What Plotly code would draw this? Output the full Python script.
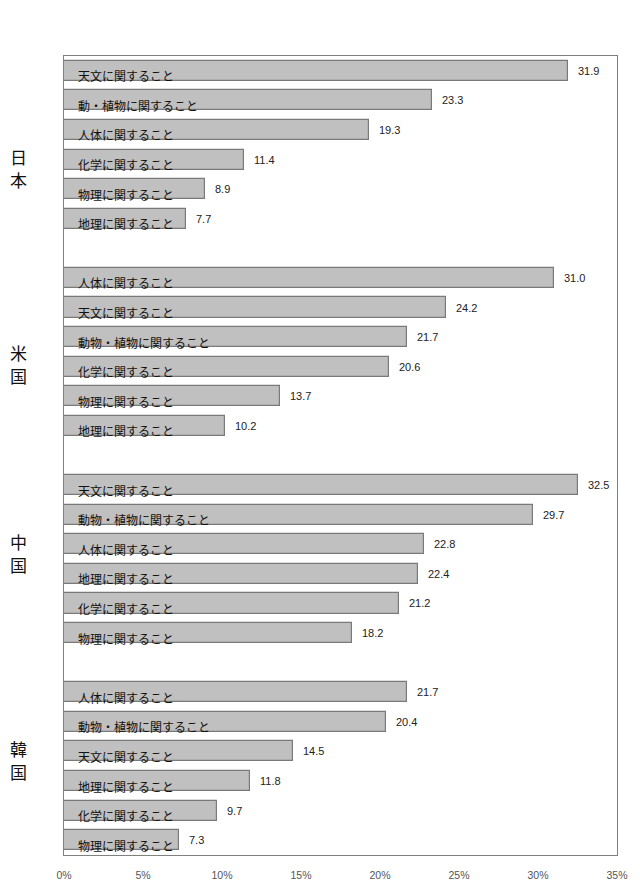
import plotly.graph_objects as go

countries = ["日本", "米国", "中国", "韓国"]

jp_items = ["天文に関すること", "動・植物に関すること", "人体に関すること",
            "化学に関すること", "物理に関すること", "地理に関すること"]
jp_vals = [31.9, 23.3, 19.3, 11.4, 8.9, 7.7]

us_items = ["人体に関すること", "天文に関すること", "動物・植物に関すること",
            "化学に関すること", "物理に関すること", "地理に関すること"]
us_vals = [31.0, 24.2, 21.7, 20.6, 13.7, 10.2]

cn_items = ["天文に関すること", "動物・植物に関すること", "人体に関すること",
            "地理に関すること", "化学に関すること", "物理に関すること"]
cn_vals = [32.5, 29.7, 22.8, 22.4, 21.2, 18.2]

kr_items = ["人体に関すること", "動物・植物に関すること", "天文に関すること",
            "地理に関すること", "化学に関すること", "物理に関すること"]
kr_vals = [21.7, 20.4, 14.5, 11.8, 9.7, 7.3]

tick_vals = [0, 5, 10, 15, 20, 25, 30, 35]
tick_text = ["0%", "5%", "10%", "15%", "20%", "25%", "30%", "35%"]

groups = [(jp_items, jp_vals), (us_items, us_vals), (cn_items, cn_vals), (kr_items, kr_vals)]

# country label offsets inside each group (slot units), as placed in the original
label_pos = [3.3, 2.9, 2.3, 2.3]

FONT = "Noto Sans CJK JP"
NUMFONT = "Liberation Sans"

ys, xs, names = [], [], []
for g, (items, vals) in enumerate(groups):
    for i, (n, v) in enumerate(zip(items, vals)):
        ys.append(g * 7 + i)
        xs.append(v)
        names.append(n)

fig = go.Figure()
fig.add_trace(go.Bar(
    x=xs, y=ys, orientation="h", width=0.68,
    marker=dict(color="#c0c0c0", line=dict(color="#7a7a7a", width=1.2)),
    hoverinfo="skip",
))

annotations = []
for y, n, v in zip(ys, names, xs):
    annotations.append(dict(
        x=0.75, y=y, xref="x", yref="y", text=n, showarrow=False,
        xanchor="left", yanchor="middle", yshift=-5,
        font=dict(family=FONT, size=12, color="#111111"),
    ))
    annotations.append(dict(
        x=v, y=y, xref="x", yref="y", text=f"{v:.1f}", showarrow=False,
        xanchor="left", yanchor="middle", xshift=8,
        font=dict(family=NUMFONT, size=11, color="#222222"),
    ))
for g, c in enumerate(countries):
    for k, ch in enumerate(c):
        annotations.append(dict(
            x=0, xref="paper", xshift=-46, y=g * 7 + label_pos[g], yref="y",
            yshift=11.5 - 23 * k,
            text=ch, showarrow=False,
            xanchor="center", yanchor="middle",
            font=dict(family=FONT, size=17, color="#111111"),
        ))

fig.update_layout(
    width=632, height=885,
    margin=dict(l=56, r=14, t=48, b=27),
    plot_bgcolor="white", paper_bgcolor="white",
    showlegend=False, bargap=0,
    annotations=annotations,
    xaxis=dict(range=[0, 35], tickvals=tick_vals, ticktext=tick_text,
               showgrid=False, zeroline=False,
               showline=True, linecolor="#808080", linewidth=1.2, mirror=True,
               ticks="outside", ticklen=10, tickcolor="rgba(0,0,0,0)",
               tickfont=dict(family=NUMFONT, size=10.5, color="#555555")),
    yaxis=dict(range=[26.5, -0.5], showticklabels=False, showgrid=False,
               zeroline=False, showline=True, linecolor="#808080",
               linewidth=1.2, mirror=True, ticks=""),
)

fig.write_html("out.html")
